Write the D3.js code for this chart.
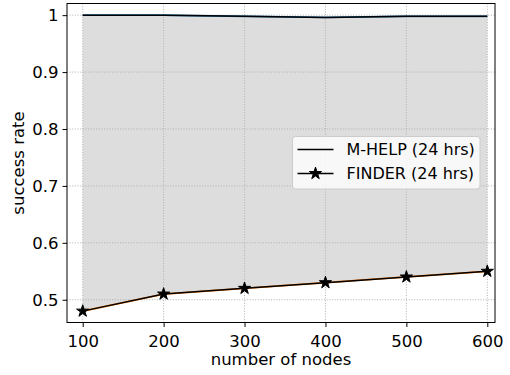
<!DOCTYPE html>
<html><head><meta charset="utf-8">
<script src="https://cdn.jsdelivr.net/npm/d3@7"></script>
<style>body{margin:0;background:#fff}svg{display:block}text{font-family:"DejaVu Sans",sans-serif;fill:#000}</style>
</head><body>
<svg id="c" width="510" height="375"></svg>
<script>
const nodes = [100, 200, 300, 400, 500, 600];
const mhelp = [1.0, 1.0, 0.998, 0.996, 0.998, 0.998];
const finder = [0.48, 0.51, 0.52, 0.53, 0.54, 0.55];
const xTicks = [100, 200, 300, 400, 500, 600];
const yTicks = [0.5, 0.6, 0.7, 0.8, 0.9, 1.0];
const seriesNames = ["M-HELP (24 hrs)", "FINDER (24 hrs)"];

const svg = d3.select("#c");
const L = 67, R = 495, T = 3.5, B = 322.5;
const x = d3.scaleLinear().domain([80.6, 609.5]).range([L, R]);
const y = d3.scaleLinear().domain([0.46, 1.0205]).range([B, T]);

// fill between
const area = d3.area().x((d, i) => x(nodes[i])).y0((d, i) => y(finder[i])).y1((d, i) => y(mhelp[i]));
svg.append("path").datum(nodes).attr("d", area).attr("fill", "#dddddd");

// grid
const g = svg.append("g");
xTicks.forEach(t => g.append("line").attr("x1", x(t)).attr("x2", x(t)).attr("y1", T).attr("y2", B)
  .attr("stroke", "#b0b0b0").attr("stroke-width", 1).attr("stroke-dasharray", "1,1.65"));
yTicks.forEach(t => g.append("line").attr("x1", L).attr("x2", R).attr("y1", y(t)).attr("y2", y(t))
  .attr("stroke", "#b0b0b0").attr("stroke-width", 1).attr("stroke-dasharray", "1,1.65"));

// lines
const line = arr => d3.line().x((d, i) => x(nodes[i])).y((d, i) => y(arr[i]));
svg.append("path").datum(nodes).attr("d", line(mhelp)).attr("fill", "none").attr("stroke", "#1f77b4").attr("stroke-width", 1.8);
svg.append("path").datum(nodes).attr("d", line(mhelp)).attr("fill", "none").attr("stroke", "#000").attr("stroke-width", 1.5);
svg.append("path").datum(nodes).attr("d", line(finder)).attr("fill", "none").attr("stroke", "#ff7f0e").attr("stroke-width", 1.8);
svg.append("path").datum(nodes).attr("d", line(finder)).attr("fill", "none").attr("stroke", "#000").attr("stroke-width", 1.5);
const star = d3.symbol().type(d3.symbolStar).size(46);
svg.selectAll("path.st").data(nodes).enter().append("path").attr("class", "st")
  .attr("d", star).attr("transform", (d, i) => `translate(${x(d)},${y(finder[i])})`)
  .attr("fill", "#000").attr("stroke", "#000").attr("stroke-width", 1).attr("stroke-linejoin", "miter");

// axes
const xa = svg.append("g").attr("transform", `translate(0,${B})`)
  .call(d3.axisBottom(x).tickValues(xTicks).tickSize(4.5).tickPadding(4).tickFormat(d3.format("d")));
const ya = svg.append("g").attr("transform", `translate(${L},0)`)
  .call(d3.axisLeft(y).tickValues(yTicks).tickSize(4.5).tickPadding(4).tickFormat(d => d === 1 ? "1" : d3.format(".1f")(d)));
[xa, ya].forEach(a => {
  a.select(".domain").remove();
  a.selectAll("text").attr("font-size", "16.5px").attr("font-family", "DejaVu Sans").attr("fill", "#000");
  a.selectAll("line").attr("stroke", "#000").attr("stroke-width", 1);
});
xa.selectAll("text").attr("dy", "0.95em");
svg.append("rect").attr("x", L).attr("y", T).attr("width", R - L).attr("height", B - T)
  .attr("fill", "none").attr("stroke", "#000").attr("stroke-width", 1);

svg.append("text").attr("x", (L + R) / 2).attr("y", 365).attr("text-anchor", "middle").attr("font-size", "16.5px").text("number of nodes");
svg.append("text").attr("transform", `translate(24,${(T + B) / 2}) rotate(-90)`).attr("text-anchor", "middle").attr("font-size", "16.5px").text("success rate");

// legend
const lg = svg.append("g");
lg.append("rect").attr("x", 292.5).attr("y", 136.5).attr("width", 187.5).attr("height", 52.5).attr("rx", 3)
  .attr("fill", "#fff").attr("fill-opacity", 0.8).attr("stroke", "#cccccc").attr("stroke-width", 1);
seriesNames.forEach((n, i) => {
  const yy = 149.5 + i * 24;
  lg.append("line").attr("x1", 297.5).attr("x2", 333.5).attr("y1", yy).attr("y2", yy).attr("stroke", "#000").attr("stroke-width", 1.5);
  if (i === 1) lg.append("path").attr("d", star).attr("transform", `translate(315.5,${yy})`)
    .attr("fill", "#000").attr("stroke", "#000").attr("stroke-width", 1);
  lg.append("text").attr("x", 346.5).attr("y", yy).attr("dy", "0.36em").attr("font-size", "16px").text(n);
});
</script>
</body></html>
